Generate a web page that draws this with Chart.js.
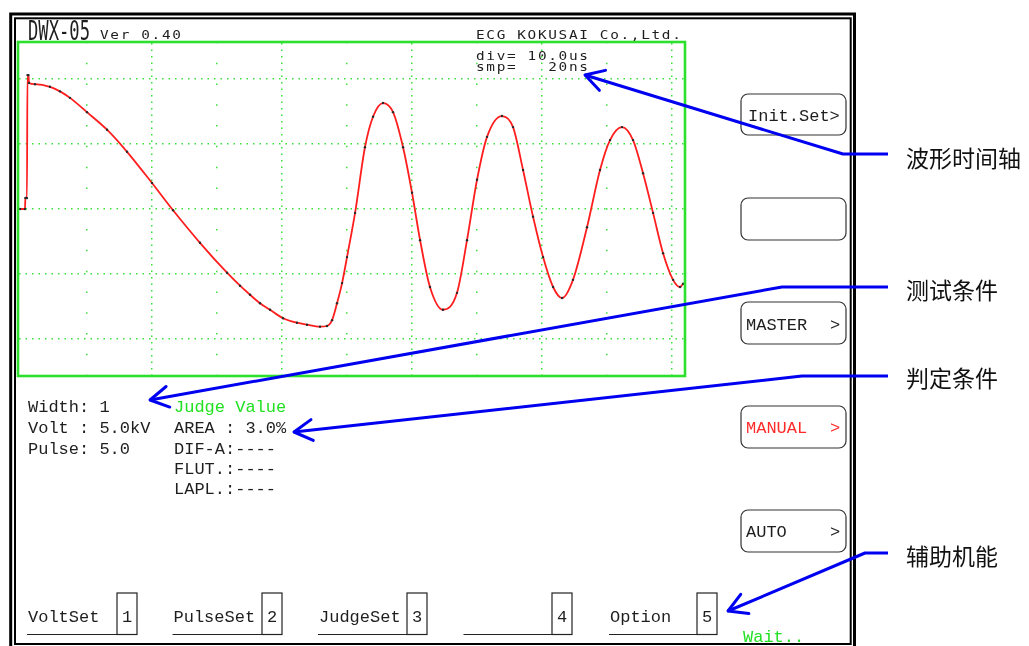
<!DOCTYPE html>
<html>
<head>
<meta charset="utf-8">
<script src="https://cdn.jsdelivr.net/npm/chart.js@4.4.0/dist/chart.umd.min.js"></script>
<style>
  html, body { margin: 0; padding: 0; background: #fff; }
  #page { position: relative; width: 1029px; height: 646px; overflow: hidden; background: #fff; }
  #scope { position: absolute; left: 19px; top: 43px; }
  #ui { position: absolute; left: 0; top: 0; pointer-events: none; }
  .mono { font-family: "Liberation Mono", "DejaVu Sans Mono", monospace; font-size: 17px; fill: #1e1e1e; white-space: pre; }
  .small { font-family: "DejaVu Sans Mono", monospace; font-size: 12px; letter-spacing: 1.38px; fill: #1e1e1e; white-space: pre; }
  .cjk { font-family: "Noto Sans CJK SC", sans-serif; font-size: 23px; fill: #111; }
</style>
</head>
<body>
<div id="page">
  <canvas id="scope" width="665" height="332"></canvas>
  <svg id="ui" width="1029" height="646" xmlns="http://www.w3.org/2000/svg">
    <!-- marco exterior doble -->
    <rect x="10.7" y="14" width="843.8" height="636" fill="none" stroke="#000" stroke-width="3"/>
    <rect x="15" y="18.3" width="835.7" height="625.7" fill="none" stroke="#000" stroke-width="2"/>
    <!-- borde verde del osciloscopio -->
    <rect x="18" y="42" width="667" height="334" fill="none" stroke="#2ee02e" stroke-width="2.6"/>

    <!-- cabecera -->
    <text x="28" y="39.5" font-family="DejaVu Sans Mono" font-size="26" fill="#1e1e1e" textLength="62" lengthAdjust="spacingAndGlyphs">DWX-05</text>
    <g transform="translate(100,39) scale(1.2,1)"><text class="small">Ver 0.40</text></g>
    <g transform="translate(476,39) scale(1.2,1)"><text class="small">ECG KOKUSAI Co.,Ltd.</text></g>
    <g transform="translate(476,60) scale(1.2,1)"><text class="small">div= 10.0us</text></g>
    <g transform="translate(476,71) scale(1.2,1)"><text class="small">smp=   20ns</text></g>

    <!-- condiciones -->
    <text class="mono" x="28" y="412">Width: 1</text>
    <text class="mono" x="28" y="433">Volt : 5.0kV</text>
    <text class="mono" x="28" y="454">Pulse: 5.0</text>
    <text class="mono" x="174" y="412" style="fill:#22e022">Judge Value</text>
    <text class="mono" x="174" y="433">AREA : 3.0%</text>
    <text class="mono" x="174" y="454">DIF-A:----</text>
    <text class="mono" x="174" y="474">FLUT.:----</text>
    <text class="mono" x="174" y="494">LAPL.:----</text>

    <!-- botones derecha -->
    <g fill="none" stroke="#333" stroke-width="1.2">
      <rect x="741" y="94" width="105" height="41" rx="7"/>
      <rect x="741" y="198" width="105" height="42" rx="7"/>
      <rect x="741" y="302" width="105" height="42" rx="7"/>
      <rect x="741" y="406" width="105" height="42" rx="7"/>
      <rect x="741" y="510" width="105" height="42" rx="7"/>
    </g>
    <text class="mono" x="748" y="121">Init.Set&gt;</text>
    <text class="mono" x="746" y="330">MASTER</text>
    <text class="mono" x="830" y="330">&gt;</text>
    <text class="mono" x="746" y="433" style="fill:#ff2a2a">MANUAL</text>
    <text class="mono" x="830" y="433" style="fill:#ff2a2a">&gt;</text>
    <text class="mono" x="746" y="537">AUTO</text>
    <text class="mono" x="830" y="537">&gt;</text>

    <!-- teclas de funcion abajo -->
    <g id="fkeys"></g>
    <text class="mono" x="743" y="642" style="fill:#22e022">Wait..</text>

    <!-- llamadas -->
    <g id="callouts"></g>
    <text class="cjk" x="906" y="157" dominant-baseline="central">波形时间轴</text>
    <text class="cjk" x="906" y="289" dominant-baseline="central">测试条件</text>
    <text class="cjk" x="906" y="377" dominant-baseline="central">判定条件</text>
    <text class="cjk" x="906" y="555" dominant-baseline="central">辅助机能</text>
  </svg>
</div>

<script>
// datos de la forma de onda (tiempo en us, tension en divisiones)
const timeUs = [-0.15, 0.23, 0.26, 0.38, 0.42, 0.5, 0.54, 1.0, 2.15, 2.92, 3.69, 5.0, 6.54, 8.08,
    10.0, 11.62, 13.69, 15.77, 16.77, 17.54, 18.31, 19.08, 20.08, 21.15, 21.92, 22.92, 23.46, 23.85,
    24.23, 24.62, 25.0, 25.62, 26.38, 27.0, 27.77, 28.54, 29.31, 30.0, 30.62, 31.38, 32.38,
    33.46, 34.23, 35.0, 35.77, 36.92, 37.77, 38.54, 39.31, 40.08, 40.85, 41.54, 42.38, 43.46,
    44.46, 45.23, 46.15, 47.0, 47.77, 48.54, 49.31, 50.08, 50.62, 50.85];
const voltDiv = [0, 0, 0.17, 0.17, 2.06, 2.06, 1.94, 1.92, 1.88, 1.81, 1.71, 1.49, 1.22, 0.88,
    0.40, -0.02, -0.52, -0.98, -1.18, -1.32, -1.45, -1.55, -1.68, -1.75, -1.78, -1.81, -1.80, -1.71,
    -1.45, -1.14, -0.74, -0.06, 0.95, 1.42, 1.63, 1.49, 0.95, 0.25, -0.48, -1.20, -1.55,
    -1.29, -0.48, 0.45, 1.11, 1.43, 1.26, 0.60, -0.12, -0.74, -1.20, -1.37, -1.09, -0.28,
    0.60, 1.06, 1.26, 1.06, 0.55, -0.06, -0.68, -1.09, -1.20, -1.15];

// rejilla
const xMajorTicks = [10, 20, 30, 40, 50];
const xMinorTicks = [5, 15, 25, 35, 45];
const yTicks = [-2, -1, 0, 1, 2];

// teclas de funcion
const fkeyLabels = ['VoltSet', 'PulseSet', 'JudgeSet', '', 'Option'];
const fkeyNumbers = ['1', '2', '3', '4', '5'];

const gridGreen = '#3ae03a';

function tickSetter(list) {
    return function (scale) {
        scale.ticks = list.map(v => ({ value: v }));
    };
}

const ctx = document.getElementById('scope').getContext('2d');
new Chart(ctx, {
    type: 'line',
    data: {
        datasets: [{
            data: timeUs.map((t, i) => ({ x: t, y: voltDiv[i] })),
            borderColor: '#ff1e1e',
            borderWidth: 1.8,
            pointRadius: 1.2,
            pointBorderWidth: 0,
            pointBackgroundColor: '#2a2a2a',
            cubicInterpolationMode: 'monotone',
            fill: false
        }]
    },
    options: {
        responsive: false,
        animation: false,
        layout: { padding: 0, autoPadding: false },
        plugins: { legend: { display: false }, tooltip: { enabled: false } },
        scales: {
            x: {
                type: 'linear', min: -0.23, max: 50.92,
                afterBuildTicks: tickSetter(xMajorTicks),
                ticks: { display: false },
                grid: { color: gridGreen, lineWidth: 1.5, drawTicks: false },
                border: { display: false, dash: [1.5, 5] }
            },
            x2: {
                type: 'linear', position: 'bottom', min: -0.23, max: 50.92,
                afterBuildTicks: tickSetter(xMinorTicks),
                ticks: { display: false },
                grid: { color: gridGreen, lineWidth: 1.5, drawTicks: false },
                border: { display: false, dash: [1.5, 19.3], dashOffset: 1.15 }
            },
            y: {
                type: 'linear', min: -2.554, max: 2.554,
                afterBuildTicks: tickSetter(yTicks),
                ticks: { display: false },
                grid: { color: gridGreen, lineWidth: 1.5, drawTicks: false },
                border: { display: false, dash: [1.5, 5] }
            }
        }
    }
});

// dibujo de la interfaz (teclas y flechas)
const NS = 'http://www.w3.org/2000/svg';

function el(tag, attrs, parent) {
    const e = document.createElementNS(NS, tag);
    for (const k in attrs) e.setAttribute(k, attrs[k]);
    parent.appendChild(e);
    return e;
}

const fkeys = document.getElementById('fkeys');
fkeyLabels.forEach((label, i) => {
    const left = 27 + i * 145.5;
    const box = 117 + i * 145;
    el('line', { x1: left, y1: 634.5, x2: box, y2: 634.5, stroke: '#222', 'stroke-width': 1.2 }, fkeys);
    el('rect', { x: box, y: 593, width: 20, height: 41.5, fill: 'none', stroke: '#222', 'stroke-width': 1.2 }, fkeys);
    const t = el('text', { class: 'mono', x: left + 1, y: 622 }, fkeys);
    t.textContent = label;
    const n = el('text', { class: 'mono', x: box + 10, y: 622, 'text-anchor': 'middle' }, fkeys);
    n.textContent = fkeyNumbers[i];
});

function addArrow(parent, pts) {
    el('polyline', {
        points: pts.map(p => p.join(',')).join(' '),
        fill: 'none', stroke: '#0000f0', 'stroke-width': 3, 'stroke-linejoin': 'round'
    }, parent);
    const [tx, ty] = pts[pts.length - 1];
    const [px, py] = pts[pts.length - 2];
    const a = Math.atan2(py - ty, px - tx);
    const L = 21, w = 0.52;
    const p1 = [tx + L * Math.cos(a - w), ty + L * Math.sin(a - w)];
    const p2 = [tx + L * Math.cos(a + w), ty + L * Math.sin(a + w)];
    el('polyline', {
        points: [p1, [tx, ty], p2].map(p => p.join(',')).join(' '),
        fill: 'none', stroke: '#0000f0', 'stroke-width': 3, 'stroke-linecap': 'round', 'stroke-linejoin': 'round'
    }, parent);
}

const callouts = document.getElementById('callouts');
addArrow(callouts, [[888, 154], [843, 154], [585, 75]]);
addArrow(callouts, [[888, 287], [782, 287], [150, 400]]);
addArrow(callouts, [[888, 376], [802, 376], [294, 432]]);
addArrow(callouts, [[888, 553], [865, 553], [728, 611]]);
</script>
</body>
</html>
